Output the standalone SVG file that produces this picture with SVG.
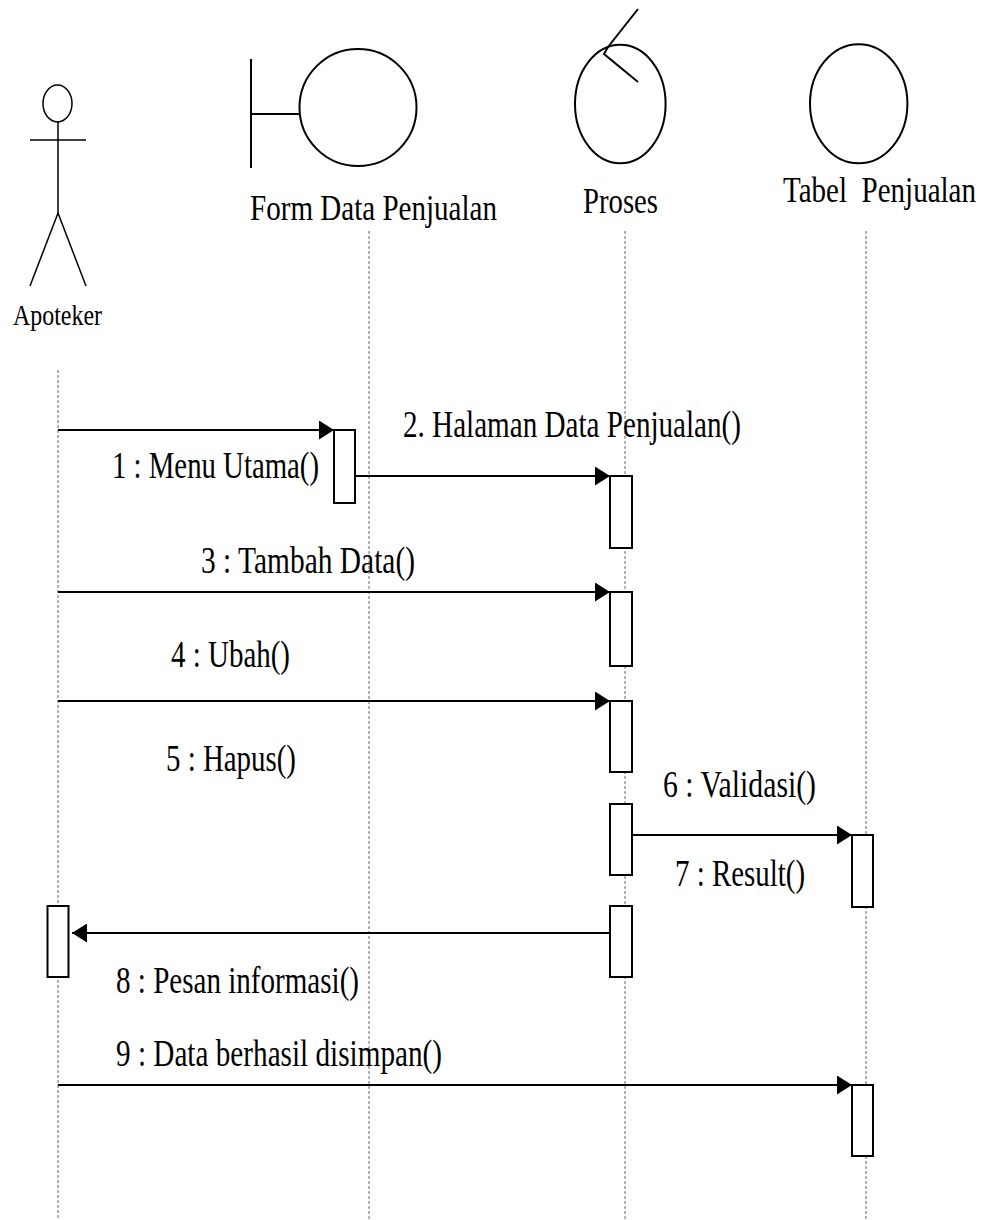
<svg xmlns="http://www.w3.org/2000/svg" width="984" height="1220" viewBox="0 0 984 1220">
  <style>
    .head { font-size: 35px; }
    .lbl { font-size: 38px; }
    .shape { fill: none; stroke: #000; stroke-width: 2; }
    .thin { fill: none; stroke: #000; stroke-width: 1.5; }
    .life { stroke: #666; stroke-width: 1; stroke-dasharray: 3 2; fill: none; }
    .act { fill: #fff; stroke: #000; stroke-width: 2; }
    .msg { stroke: #000; stroke-width: 2; fill: none; }
  </style>
  <defs>
    <marker id="arrow" viewBox="0 0 15 19" refX="15" refY="9.5" markerWidth="15" markerHeight="19" markerUnits="userSpaceOnUse" orient="auto">
      <path d="M0,0 L15,9.5 L0,19 z" fill="#000"/>
    </marker>
  </defs>
  <rect width="984" height="1220" fill="#fff"/>

  <!-- lifelines -->
  <g id="lifelines">
    <line class="life" x1="58" y1="370" x2="58" y2="1220"/>
    <line class="life" x1="369" y1="231" x2="369" y2="1220"/>
    <line class="life" x1="625" y1="231" x2="625" y2="1220"/>
    <line class="life" x1="866" y1="231" x2="866" y2="1220"/>
  </g>

  <!-- actor -->
  <g id="apoteker">
    <ellipse class="thin" cx="57.5" cy="103.5" rx="14.5" ry="18.5"/>
    <line class="thin" x1="30" y1="140" x2="86" y2="140"/>
    <line class="thin" x1="58" y1="122" x2="58" y2="213"/>
    <line class="thin" x1="58" y1="213" x2="30" y2="286"/>
    <line class="thin" x1="58" y1="213" x2="86" y2="286"/>
    <text x="13" y="325" font-family="Liberation Serif" font-size="30" textLength="89" lengthAdjust="spacingAndGlyphs">Apoteker</text>
  </g>

  <!-- boundary -->
  <g id="form-data-penjualan">
    <line class="shape" x1="251" y1="59" x2="251" y2="168"/>
    <line class="shape" x1="251" y1="114" x2="299.5" y2="114"/>
    <circle class="shape" cx="358" cy="107.5" r="58.5"/>
    <text class="head" x="250" y="220" font-family="Liberation Serif" textLength="247" lengthAdjust="spacingAndGlyphs">Form Data Penjualan</text>
  </g>

  <!-- control -->
  <g id="proses">
    <ellipse class="shape" cx="620.3" cy="104" rx="45.3" ry="59.2"/>
    <polyline class="shape" points="638,9 608,47 604,54 638,82"/>
    <text x="583" y="213" font-family="Liberation Serif" font-size="36" textLength="75" lengthAdjust="spacingAndGlyphs">Proses</text>
  </g>

  <!-- entity -->
  <g id="tabel-penjualan">
    <ellipse class="shape" cx="858.7" cy="103.8" rx="48.7" ry="59.5"/>
    <text class="head" x="783" y="201.5" font-family="Liberation Serif" textLength="193" lengthAdjust="spacingAndGlyphs" xml:space="preserve">Tabel  Penjualan</text>
  </g>

  <!-- activations -->
  <g id="activations">
    <rect class="act" x="334" y="430" width="21" height="73"/>
    <rect class="act" x="610" y="476" width="22" height="72"/>
    <rect class="act" x="610" y="592" width="22" height="74"/>
    <rect class="act" x="610" y="701" width="22" height="71"/>
    <rect class="act" x="610" y="804" width="22" height="71"/>
    <rect class="act" x="852" y="835" width="21" height="72"/>
    <rect class="act" x="610" y="906" width="22" height="71"/>
    <rect class="act" x="47.5" y="906" width="21" height="71"/>
    <rect class="act" x="852" y="1085" width="21" height="71"/>
  </g>

  <!-- messages -->
  <g id="connectors">
    <line class="msg" x1="58" y1="430" x2="334" y2="430" marker-end="url(#arrow)"/>
    <line class="msg" x1="355" y1="476" x2="610" y2="476" marker-end="url(#arrow)"/>
    <line class="msg" x1="58" y1="592" x2="610" y2="592" marker-end="url(#arrow)"/>
    <line class="msg" x1="58" y1="701" x2="610" y2="701" marker-end="url(#arrow)"/>
    <line class="msg" x1="632" y1="835" x2="852" y2="835" marker-end="url(#arrow)"/>
    <line class="msg" x1="610" y1="933" x2="72" y2="933" marker-end="url(#arrow)"/>
    <line class="msg" x1="58" y1="1085" x2="852" y2="1085" marker-end="url(#arrow)"/>
  </g>

  <!-- message labels -->
  <g id="labels" font-family="Liberation Serif">
    <text class="lbl" x="112" y="478" font-family="Liberation Serif" textLength="207" lengthAdjust="spacingAndGlyphs">1 : Menu Utama()</text>
    <text class="lbl" x="403" y="437" font-family="Liberation Serif" textLength="338" lengthAdjust="spacingAndGlyphs">2. Halaman Data Penjualan()</text>
    <text class="lbl" x="201" y="573" font-family="Liberation Serif" textLength="214" lengthAdjust="spacingAndGlyphs">3 : Tambah Data()</text>
    <text class="lbl" x="171" y="667" font-family="Liberation Serif" textLength="119" lengthAdjust="spacingAndGlyphs">4 : Ubah()</text>
    <text class="lbl" x="166" y="771" font-family="Liberation Serif" textLength="130" lengthAdjust="spacingAndGlyphs">5 : Hapus()</text>
    <text class="lbl" x="663" y="797" font-family="Liberation Serif" textLength="153" lengthAdjust="spacingAndGlyphs">6 : Validasi()</text>
    <text class="lbl" x="675" y="886" font-family="Liberation Serif" textLength="130" lengthAdjust="spacingAndGlyphs">7 : Result()</text>
    <text class="lbl" x="116" y="993" font-family="Liberation Serif" textLength="243" lengthAdjust="spacingAndGlyphs">8 : Pesan informasi()</text>
    <text class="lbl" x="116" y="1066" font-family="Liberation Serif" textLength="326" lengthAdjust="spacingAndGlyphs">9 : Data berhasil disimpan()</text>
  </g>
</svg>
